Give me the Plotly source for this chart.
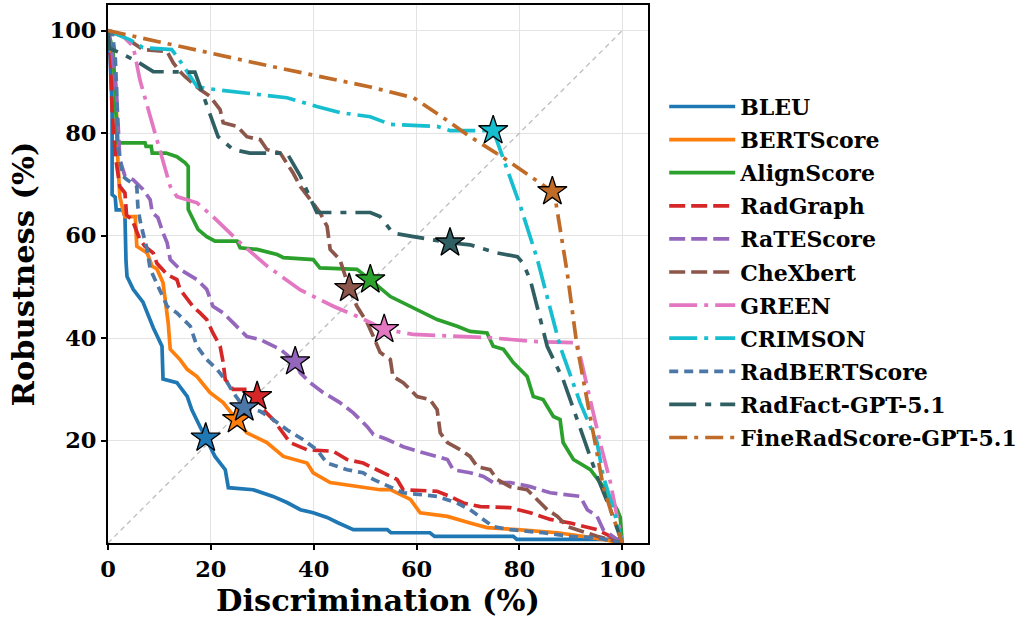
import plotly.graph_objects as go

# ---------------- data ----------------
bleu_x = [0, 0.4, 0.8, 0.8, 1.4, 1.6, 2.9, 3.3, 3.5, 3.7, 4.9, 6.8, 8.8, 10.5, 10.7, 13.4, 15.4, 16.3, 17.9, 19.0,
          20.8, 22.8, 23.4, 28.2, 32.1, 34.8, 37.4, 39.9, 42.6, 44.6, 47.7, 54.3, 55.0, 62.6, 63.5, 78.8, 79.5, 99.6, 100]
bleu_y = [100, 95, 85, 68, 67.5, 65, 65, 63.7, 55, 52, 49.5, 47, 42, 38.4, 32, 31.3, 28.6, 26, 22.7, 20.5,
          16.9, 14.3, 10.8, 10.4, 9.1, 7.9, 6.5, 5.9, 5, 4, 2.6, 2.6, 2, 2, 1.3, 1.3, 0.7, 0.7, 0]

bertscore_x = [0, 0.5, 1.0, 1.5, 1.9, 2.3, 2.9, 3.3, 5.3, 5.6, 7.6, 8.6, 9.5, 10.1, 10.7, 11.7, 12.1, 14, 15.4, 17.3,
               19.8, 22.4, 25.1, 27, 30.9, 34.1, 38.7, 39.9, 43.2, 52.9, 54.9, 58.8, 60.7, 66, 70.4, 73.7, 79.6,
               87.4, 95.1, 100]
bertscore_y = [100, 97, 94, 90, 75, 67.6, 65, 63.7, 63.7, 57.9, 56.6, 54, 53.5, 52, 50.8, 43, 37.8, 35.8, 33.9, 32.5,
               29.4, 27.4, 24.1, 21.5, 19.6, 16.9, 15.6, 13.7, 11.8, 10.4, 10.4, 8.5, 5.9, 5.2, 3.9, 3, 2.6,
               2, 0.9, 0]

alignscore_x = [0, 1.0, 1.8, 2.7, 7.2, 7.4, 8.4, 8.6, 11.3, 13.4, 15, 15.6, 15.6, 17.5, 19.2, 20.8, 25.1, 25.7, 29,
                32.9, 34.1, 39.9, 41.2, 48.4, 51, 54.9, 57.4, 60.1, 64, 67.9, 70.4, 73.7, 74.9, 76.9, 78.8, 81.5,
                82.7, 84.6, 86.6, 87.9, 88.5, 90.5, 93.8, 96.3, 99, 99.6, 100]
alignscore_y = [100, 96, 78.1, 78.1, 78.1, 77.4, 77.4, 76.1, 76.1, 75.4, 74.2, 73.5, 65.1, 61.2, 59.8, 58.9, 58.9,
                57.6, 57.3, 56.3, 55.7, 55.3, 53.7, 53.4, 51.4, 48.1, 46.9, 45.6, 43.6, 42.3, 41.3, 41, 38.4, 37.8,
                35.2, 32.5, 28.6, 28, 24.7, 24.1, 19.6, 16.3, 14.3, 11, 6.5, 5, 0]

radgraph_x = [0, 0.5, 0.8, 1.5, 2.3, 3.3, 3.6, 4.7, 6.2, 7.2, 8.8, 9.5, 11.5, 13.4, 14, 15.4, 16.5, 17.9, 19.2, 20.4,
              21.8, 22.4, 22.8, 24.3, 27, 29, 30.2, 32.1, 34.1, 35.4, 38.7, 43.8, 46.5, 49.6, 52.3, 56.2, 57.4, 64,
              66.5, 69.1, 72.4, 78.2, 82.1, 86, 89.9, 95.1, 97.7, 100]
radgraph_y = [100, 95, 84, 75, 69.6, 68.3, 64, 63.1, 59.2, 57.9, 56.6, 54.6, 52.4, 51.4, 49.5, 47.5, 46.2, 44.9,
              43.6, 41, 38.4, 35.2, 31.9, 30, 30, 28.6, 26, 24.1, 21.5, 19.6, 18.2, 17.9, 16.3, 15.6, 14.3, 12.4,
              10.4, 10.1, 9.1, 7.8, 7.1, 6.9, 5.9, 4.6, 3.9, 2.6, 1.3, 0]

ratescore_x = [0, 0.4, 0.8, 1.7, 2.3, 3.3, 4.9, 6.8, 8.2, 8.6, 9.7, 10.7, 11.5, 12.1, 14, 17.3, 19.2, 20.4, 22.4,
               24.3, 27, 29.6, 33.5, 36.4, 37.4, 39.3, 41.8, 45.1, 47.7, 50.4, 51.6, 54.3, 57.4, 61.3, 66, 67.1,
               70.4, 73, 74.9, 78.2, 82.1, 86, 91.8, 93.2, 95.1, 96.3, 98.3, 100]
ratescore_y = [100, 98, 95.7, 87.1, 74.8, 71.6, 70.9, 69, 67, 64.5, 63.5, 60.5, 58.6, 55.3, 53.4, 51.4, 49.5, 46.2,
               44.9, 43, 40.3, 39.7, 37.8, 35.4, 33.2, 31.3, 29.4, 27.4, 25.4, 22.7, 21.2, 20.2, 18.8, 17.6, 16.3,
               14.3, 13.7, 13, 11.8, 11.8, 11, 9.8, 9.1, 6.5, 5.2, 2.6, 1.3, 0]

chexbert_x = [0, 2.5, 4.9, 6.8, 11.5, 12.7, 14, 15, 17.9, 19.8, 21.8, 22.4, 25.1, 27, 29.6, 30.9, 33.5, 36, 37.4,
              39.3, 41.2, 42.6, 43.2, 45.1, 46.9, 48.4, 50.4, 51.6, 52.9, 54.9, 55.4, 57.4, 59.4, 60.1, 62.6, 64,
              64.6, 66, 68.5, 70.4, 71.8, 74.3, 75.7, 78.2, 81.5, 83.5, 85.4, 87.4, 89.3, 91.2, 95.1, 100]
chexbert_y = [100, 99, 97.6, 96.3, 95.9, 93.7, 92, 91, 88.5, 87.2, 84.6, 82, 81.3, 79.3, 78.7, 76.8, 76.1, 72.2,
              69.6, 67, 64.5, 61.8, 57.3, 55.3, 49.7, 46.2, 43, 40.3, 37.2, 35.8, 32.5, 31.3, 29.4, 28.6, 28, 26,
              21.5, 19.6, 18.2, 16.9, 14.9, 14.3, 12.4, 11, 10.4, 8.5, 6.5, 5.2, 3.2, 2.6, 1.3, 0]

green_x = [0, 2.9, 4.9, 6.2, 8.2, 10.1, 12.1, 13.4, 17.3, 20.4, 25.7, 31, 37.4, 43.8, 49, 53.7, 59.4, 73.7, 83.5,
           91.2, 93.2, 95.7, 97.7, 100]
green_y = [100, 98.9, 96.9, 90.4, 83.3, 76.8, 69.6, 67.6, 66.4, 63.7, 58.6, 54, 49.4, 46.2, 44, 41.7, 40.7, 40.1,
           39.3, 39.1, 30.5, 19.6, 11.8, 0]

crimson_x = [0, 4.3, 6.8, 12.4, 13.6, 17.3, 19.2, 26.3, 34.8, 40.6, 45.1, 51, 54.9, 64, 66.5, 74.9, 76.9, 80.2,
             83.5, 87.9, 91.8, 95.1, 96.3, 98.3, 100]
crimson_y = [100, 98.2, 96.7, 96.3, 94.7, 89.1, 88.7, 87.9, 86.9, 85.2, 84, 83.2, 81.7, 81.3, 80.5, 80.5, 74.8,
             65.7, 55.3, 38.4, 27.4, 19.6, 13, 6.5, 0]

radbertscore_x = [0, 0.8, 1.4, 1.7, 1.9, 2.9, 3.7, 5.6, 5.8, 6.2, 6.8, 7.6, 8.2, 10.1, 11.5, 13.4, 16, 17.3, 19.2,
                  21.2, 23.2, 24.3, 26.5, 29.6, 32.1, 34.8, 37.9, 40.6, 42.6, 46.5, 49.6, 51.6, 54.9, 57.4, 64,
                  67.9, 70.4, 74.9, 78.2, 84.6, 89.9, 95.1, 100]
radbertscore_y = [100, 99.8, 95, 88, 77.4, 71.6, 70.9, 69.6, 65.7, 63.1, 60.5, 57.3, 53.5, 49.5, 46.2, 44.9, 42.3,
                  38.4, 35.8, 33.9, 31.3, 29.4, 26.4, 25.7, 24.1, 22.1, 20.2, 18.2, 15.6, 14.3, 13.7, 12.4, 11,
                  9.8, 9.1, 7.8, 6.5, 3.2, 2.6, 2, 1.3, 1, 0]

radfact_x = [0, 0.3, 2.3, 5.6, 8.8, 12.1, 16.9, 17.9, 21.4, 24.3, 27.6, 34.8, 37.4, 40.6, 51, 52.9, 55.4, 59.4, 66.5,
             70.4, 75.7, 79.6, 80.7, 82.1, 85.4, 88.5, 91.8, 95.1, 97.7, 100]
radfact_y = [100, 96.5, 95.7, 94, 92, 92, 91.9, 89.1, 79.3, 76.8, 76.1, 76.1, 71.6, 64.5, 64.5, 63.7, 60.5, 59.8,
             58.6, 58.2, 56.6, 55.9, 54.6, 51.4, 38.4, 31.9, 22.7, 13, 6.5, 0]

fineradscore_x = [0, 4.9, 30.9, 51, 59.4, 65.2, 70.4, 76.9, 83.5, 86.4, 87, 89.3, 91.2, 93.2, 95.1, 96.3, 97.7, 100]
fineradscore_y = [100, 98.9, 93.2, 89, 86.9, 83, 79.3, 75.2, 70.5, 68.6, 67, 52.7, 38.4, 27.4, 16.9, 11, 6.5, 0]

metric_names = ["BLEU", "BERTScore", "AlignScore", "RadGraph", "RaTEScore", "CheXbert", "GREEN", "CRIMSON",
                "RadBERTScore", "RadFact-GPT-5.1", "FineRadScore-GPT-5.1"]
# operating point (star) for each metric, same order as metric_names
star_x = [19.0, 25.1, 51.0, 29.0, 36.4, 46.9, 53.7, 74.9, 26.5, 66.5, 86.4]
star_y = [20.5, 24.1, 51.4, 28.6, 35.4, 49.7, 41.7, 80.5, 26.4, 58.6, 68.6]

diag = [0, 100]
x_ticks = [0, 20, 40, 60, 80, 100]
y_ticks = [20, 40, 60, 80, 100]

# ---------------- styling ----------------
curves_x = [bleu_x, bertscore_x, alignscore_x, radgraph_x, ratescore_x, chexbert_x, green_x, crimson_x,
            radbertscore_x, radfact_x, fineradscore_x]
curves_y = [bleu_y, bertscore_y, alignscore_y, radgraph_y, ratescore_y, chexbert_y, green_y, crimson_y,
            radbertscore_y, radfact_y, fineradscore_y]
colors = ["#1f77b4", "#ff7f0e", "#2ca02c", "#d62728", "#9467bd", "#8c564b", "#e377c2", "#17becf",
          "#4c78a8", "#2f5f62", "#c06c28"]
DASHED = "16px,6px"
DASHDOT = "28px,7px,4px,7px"
dashes = ["solid", "solid", "solid", DASHED, DASHED, DASHED, DASHDOT, DASHDOT,
          "9px,6px", "27px,9px,6px,9px", "18px,7px,4px,7px"]

FONT = "DejaVu Serif"

fig = go.Figure()

fig.add_trace(go.Scatter(x=diag, y=diag, mode="lines", showlegend=False, hoverinfo="skip",
                         line=dict(color="#bdbdbd", width=1.3, dash="5px,4px")))

for i, name in enumerate(metric_names):
    fig.add_trace(go.Scatter(x=curves_x[i], y=curves_y[i], mode="lines", name=name,
                             legendgroup=name,
                             line=dict(color=colors[i], width=3.7, dash=dashes[i])))

for i, name in enumerate(metric_names):
    fig.add_trace(go.Scatter(x=[star_x[i]], y=[star_y[i]], mode="markers", showlegend=False,
                             legendgroup=name,
                             marker=dict(symbol="star", size=22, color=colors[i],
                                         line=dict(color="black", width=1.3))))

axis_common = dict(
    showline=True, linecolor="black", linewidth=2, mirror=True,
    ticks="outside", ticklen=5, tickwidth=1.5, tickcolor="black",
    showgrid=True, gridcolor="#e3e3e3", gridwidth=1, zeroline=False, automargin=False,
    tickfont=dict(family=FONT, size=22.5, color="black", weight="bold"),
)

fig.update_layout(
    width=1022, height=619,
    margin=dict(l=108, r=374, t=5, b=76, autoexpand=False),
    paper_bgcolor="white", plot_bgcolor="white",
    xaxis=dict(range=[0, 105], tickvals=x_ticks,
               title=dict(text="Discrimination (%)", standoff=6,
                          font=dict(family=FONT, size=30.5, color="black", weight="bold")),
               **axis_common),
    yaxis=dict(range=[0, 105], tickvals=y_ticks,
               title=dict(text="Robustness (%)", standoff=6,
                          font=dict(family=FONT, size=30.5, color="black", weight="bold")),
               **axis_common),
    legend=dict(x=1.03, y=0.85, xanchor="left", yanchor="top", tracegroupgap=1.5,
                itemwidth=66, bgcolor="rgba(0,0,0,0)",
                font=dict(family=FONT, size=22, color="black", weight="bold")),
    showlegend=True,
)

fig.write_html("out.html", config={"displayModeBar": False},
               post_script="document.body.style.margin='0';")
